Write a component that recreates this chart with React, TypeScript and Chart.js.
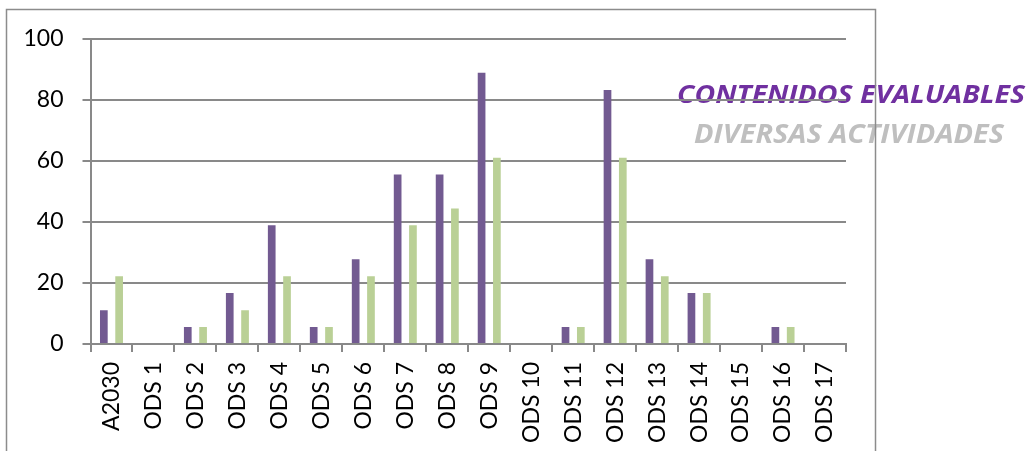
import React, { useEffect, useRef } from "react";
import { Chart, registerables } from "chart.js";

Chart.register(...registerables);

const categories = [
  "A2030", "ODS 1", "ODS 2", "ODS 3", "ODS 4", "ODS 5", "ODS 6", "ODS 7", "ODS 8",
  "ODS 9", "ODS 10", "ODS 11", "ODS 12", "ODS 13", "ODS 14", "ODS 15", "ODS 16", "ODS 17",
];
const contenidosEvaluables = [11.1, 0, 5.6, 16.7, 38.9, 5.6, 27.8, 55.6, 55.6, 88.9, 0, 5.6, 83.3, 27.8, 16.7, 0, 5.6, 0];
const diversasActividades = [22.2, 0, 5.6, 11.1, 22.2, 5.6, 22.2, 38.9, 44.4, 61.1, 0, 5.6, 61.1, 22.2, 16.7, 0, 5.6, 0];
const seriesNames = ["CONTENIDOS EVALUABLES", "DIVERSAS ACTIVIDADES"];
const yTicks = [0, 20, 40, 60, 80, 100];

const FONT = "Lato, 'Open Sans', sans-serif";
const GRID = "#898989";

const legendAndFrame = {
  id: "legendAndFrame",
  beforeDraw(chart: any) {
    const ctx = chart.ctx;
    ctx.save();
    const items = [
      { text: seriesNames[0], color: "#7030A0", x0: 677, x1: 1025, base: 103, cap: 18 },
      { text: seriesNames[1], color: "#BFBFBF", x0: 694, x1: 1004, base: 143, cap: 19 },
    ];
    for (const it of items) {
      ctx.font = `italic bold 100px 'Open Sans', Lato, sans-serif`;
      const asc = ctx.measureText("C").actualBoundingBoxAscent || 72;
      const size = (100 * it.cap) / asc;
      ctx.font = `italic bold ${size}px 'Open Sans', Lato, sans-serif`;
      const w = ctx.measureText(it.text).width;
      const sx = (it.x1 - it.x0) / w;
      ctx.save();
      ctx.translate(it.x0, it.base);
      ctx.scale(sx, 1);
      ctx.fillStyle = it.color;
      ctx.textBaseline = "alphabetic";
      ctx.textAlign = "left";
      ctx.fillText(it.text, 0, 0);
      ctx.restore();
    }
    ctx.strokeStyle = "#8c8c8c";
    ctx.lineWidth = 1.5;
    ctx.strokeRect(6.5, 9.5, 869, 460);
    ctx.restore();
  },
};

export default function App() {
  const ref = useRef<HTMLCanvasElement | null>(null);
  useEffect(() => {
    document.body.style.margin = "0";
    const chart = new Chart(ref.current as HTMLCanvasElement, {
      type: "bar",
      data: {
        labels: categories,
        datasets: [
          {
            label: seriesNames[0],
            data: contenidosEvaluables,
            backgroundColor: "#725A91",
            barPercentage: 0.503,
            categoryPercentage: 0.729,
          },
          {
            label: seriesNames[1],
            data: diversasActividades,
            backgroundColor: "#BAD096",
            barPercentage: 0.503,
            categoryPercentage: 0.729,
          },
        ],
      },
      options: {
        responsive: false,
        animation: false,
        layout: { padding: { left: 0, top: 39, right: 182, bottom: 0 } },
        plugins: { legend: { display: false }, tooltip: { enabled: false } },
        scales: {
          x: {
            afterFit(scale: any) {
              scale.height = 107;
            },
            grid: {
              offset: true,
              drawOnChartArea: false,
              drawTicks: true,
              tickLength: 8,
              color: GRID,
              lineWidth: 2,
            },
            border: { display: true, color: GRID, width: 2 },
            ticks: {
              minRotation: 90,
              maxRotation: 90,
              padding: 10,
              color: "#000",
              font: { family: FONT, size: 23 },
              autoSkip: false,
            },
          },
          y: {
            min: 0,
            max: 100,
            afterFit(scale: any) {
              scale.width = 90.5;
            },
            afterBuildTicks(scale: any) {
              scale.ticks = yTicks.map((v) => ({ value: v }));
            },
            grid: {
              drawOnChartArea: true,
              drawTicks: true,
              tickLength: 8,
              color: GRID,
              lineWidth: 2,
            },
            border: { display: true, color: GRID, width: 2 },
            ticks: {
              padding: 19,
              color: "#000",
              font: { family: FONT, size: 23 },
            },
          },
        },
      },
      plugins: [legendAndFrame],
    });
    return () => chart.destroy();
  }, []);
  return (
    <div style={{ position: "fixed", left: 0, top: 0, width: 1028, height: 451, background: "#fff" }}>
      <canvas ref={ref} width={1028} height={451} />
    </div>
  );
}
